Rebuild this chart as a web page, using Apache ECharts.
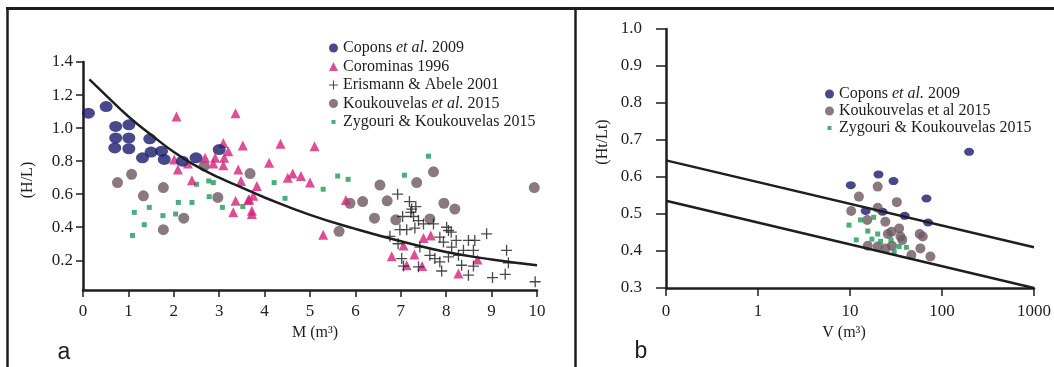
<!DOCTYPE html>
<html>
<head>
<meta charset="utf-8">
<script src="https://cdn.jsdelivr.net/npm/echarts@6/dist/echarts.min.js"></script>
<style>
    html, body { margin: 0; padding: 0; background: #fff; }
    #chart { width: 1054px; height: 367px; }
</style>
</head>
<body>
<div id="chart"></div>
<script>
/**
 * 数据 (a): M (m3) 与 H/L
 */
var coponsA = [[0.12, 1.09], [0.51, 1.13], [0.72, 1.01], [1.01, 1.02], [0.72, 0.94], [1.01, 0.94], [1.47, 0.935],
    [0.70, 0.88], [1.01, 0.875], [1.31, 0.82], [1.50, 0.855], [1.73, 0.86], [1.79, 0.81], [2.19, 0.80],
    [2.49, 0.82], [3.00, 0.87]];
var corominasA = [[2.06, 1.07], [3.36, 1.09], [3.09, 0.91], [3.52, 0.895], [3.20, 0.86], [2.69, 0.82], [2.91, 0.82],
    [3.11, 0.82], [2.01, 0.81], [2.31, 0.785], [2.09, 0.75], [2.87, 0.785], [3.09, 0.775], [3.42, 0.75],
    [2.40, 0.685], [3.48, 0.68], [3.36, 0.56], [3.31, 0.49], [3.64, 0.565], [4.35, 0.905], [5.10, 0.89],
    [4.10, 0.79], [4.62, 0.725], [4.51, 0.70], [4.80, 0.71], [5.00, 0.67], [3.83, 0.65], [3.75, 0.59],
    [3.66, 0.57], [3.72, 0.50], [3.72, 0.48], [5.29, 0.355], [5.79, 0.565], [7.06, 0.29], [7.50, 0.335],
    [7.66, 0.35], [6.80, 0.225], [7.30, 0.235], [7.13, 0.17], [7.47, 0.165], [8.69, 0.205], [8.27, 0.12]];
var erismannA = [[6.93, 0.60], [7.19, 0.555], [7.24, 0.51], [7.33, 0.525], [7.22, 0.49], [7.04, 0.465], [7.39, 0.44],
    [7.50, 0.42], [7.72, 0.42], [6.98, 0.385], [7.13, 0.385], [7.31, 0.395], [8.01, 0.40], [8.11, 0.37],
    [6.76, 0.345], [7.86, 0.34], [7.94, 0.31], [8.22, 0.32], [8.49, 0.32], [8.63, 0.32], [8.89, 0.36],
    [6.94, 0.30], [7.42, 0.28], [8.12, 0.28], [8.38, 0.26], [8.60, 0.26], [9.33, 0.26], [7.64, 0.23],
    [7.75, 0.21], [8.05, 0.22], [8.27, 0.23], [7.02, 0.21], [7.86, 0.19], [8.34, 0.17], [8.60, 0.165],
    [9.37, 0.185], [7.06, 0.165], [7.39, 0.16], [7.90, 0.135], [8.49, 0.11], [9.02, 0.095], [9.30, 0.115],
    [9.96, 0.07], [7.28, 0.465], [8.05, 0.38]];
var koukA = [[0.76, 0.67], [1.07, 0.72], [1.33, 0.59], [1.77, 0.64], [1.77, 0.385], [2.22, 0.455], [2.67, 0.77],
    [2.97, 0.58], [3.68, 0.725], [6.54, 0.655], [5.88, 0.545], [6.16, 0.555], [6.70, 0.56], [6.42, 0.455],
    [6.89, 0.445], [5.64, 0.375], [7.72, 0.735], [7.35, 0.67], [7.95, 0.545], [8.19, 0.51], [7.64, 0.45],
    [9.94, 0.64]];
var zygA = [[1.13, 0.49], [1.46, 0.52], [1.09, 0.35], [1.35, 0.415], [1.76, 0.47], [2.04, 0.48], [2.10, 0.55],
    [2.40, 0.55], [2.50, 0.66], [2.77, 0.68], [2.87, 0.67], [2.78, 0.585], [3.07, 0.52], [3.52, 0.525],
    [4.21, 0.67], [4.45, 0.575], [5.29, 0.63], [5.61, 0.71], [5.84, 0.69], [7.08, 0.715], [7.61, 0.83]];
var curveX = [0.14, 0.5, 1, 1.5, 2, 2.5, 3, 3.5, 4, 5, 6, 7, 8, 9, 10];
var curveY = [1.295, 1.2, 1.07, 0.96, 0.855, 0.77, 0.70, 0.64, 0.58, 0.475, 0.39, 0.315, 0.25, 0.205, 0.17];
var yTicksA = [0.2, 0.4, 0.6, 0.8, 1.0, 1.2, 1.4];

/**
 * 数据 (b): V (m3) 与 Ht/Lt
 */
var coponsB = [[20.4, 0.607], [10.2, 0.578], [29.7, 0.589], [67.8, 0.542], [14.8, 0.508], [22.6, 0.506],
    [39.3, 0.495], [70.6, 0.477], [197, 0.668]];
var koukB = [[20, 0.574], [12.5, 0.547], [32.3, 0.532], [20, 0.517], [10.3, 0.508], [15.4, 0.484], [24.2, 0.479],
    [34.2, 0.461], [28.3, 0.452], [25.8, 0.446], [35.4, 0.439], [57.2, 0.446], [61.8, 0.439], [37, 0.43],
    [15.6, 0.414], [20, 0.412], [24.4, 0.407], [28.6, 0.414], [58.2, 0.407], [46.5, 0.389], [74.8, 0.385]];
var zygB = [[9.75, 0.47], [13.0, 0.484], [18.1, 0.491], [15.6, 0.454], [20, 0.446], [11.7, 0.43], [17.3, 0.432],
    [27.9, 0.43], [34.2, 0.412], [41, 0.41], [30.2, 0.398], [21.5, 0.426]];
var upperB = [[0.1, 0.645], [1000, 0.41]];
var lowerB = [[0.1, 0.536], [1000, 0.3]];

var SERIF = '"Liberation Serif", "Times New Roman", serif';
var INK = '#1e1e1e';
var NAVY = '#1b1a6e';
var MAGENTA = '#d4237b';
var BROWN = '#6d5860';
var GREEN = '#1f9a54';
var PLUS = 'path://M4.4,0H5.6V4.4H10V5.6H5.6V10H4.4V5.6H0V4.4H4.4Z';
var SMALL_SQ = 'path://M0,0M9,9M2.5,2.5H6.5V6.5H2.5Z';

var chart = echarts.init(document.getElementById('chart'));

function axisBase(extra) {
    var base = {
        axisLine: {lineStyle: {color: INK, width: 2.5}},
        axisTick: {lineStyle: {color: INK, width: 1.5}, length: 7},
        axisLabel: {color: INK, fontFamily: SERIF, fontSize: 17},
        splitLine: {show: false}
    };
    for (var k in extra) {
        base[k] = extra[k];
    }
    return base;
}

var legendText = {
    color: INK,
    fontFamily: SERIF,
    fontSize: 16,
    lineHeight: 16,
    rich: {
        i: {fontFamily: SERIF, fontSize: 16, fontStyle: 'italic', color: INK}
    }
};

var option = {
    animation: false,
    backgroundColor: '#fff',
    grid: [
        {left: 83, right: 517, top: 62, bottom: 77},
        {left: 666, right: 16, top: 29, bottom: 79}
    ],
    xAxis: [
        axisBase({
            gridIndex: 0, type: 'value', min: 0, max: 10, interval: 1,
            name: 'M (m³)', nameLocation: 'middle', nameGap: 33,
            nameTextStyle: {color: INK, fontFamily: SERIF, fontSize: 16, padding: [0, 0, 0, 10]},
            axisLabel: {color: INK, fontFamily: SERIF, fontSize: 17, margin: 13}
        }),
        axisBase({
            gridIndex: 1, type: 'log', logBase: 10, min: 0.1, max: 1000,
            name: 'V (m³)', nameLocation: 'middle', nameGap: 30,
            nameTextStyle: {color: INK, fontFamily: SERIF, fontSize: 16, padding: [0, 12, 0, 0]},
            axisLabel: {
                color: INK, fontFamily: SERIF, fontSize: 17, margin: 15,
                formatter: function (v) { return v < 1 ? '0' : String(Math.round(v)); }
            },
            axisTick: {lineStyle: {color: INK, width: 1.5}, length: 8}
        })
    ],
    yAxis: [
        axisBase({
            gridIndex: 0, type: 'value', min: 0.02, max: 1.4,
            axisTick: {lineStyle: {color: INK, width: 1.5}, length: 7, customValues: yTicksA},
            axisLabel: {
                color: INK, fontFamily: SERIF, fontSize: 17, margin: 10, customValues: yTicksA,
                formatter: function (v) { return v.toFixed(1); }
            }
        }),
        axisBase({
            gridIndex: 1, type: 'value', min: 0.3, max: 1.0, interval: 0.1,
            axisTick: {lineStyle: {color: INK, width: 1.5}, length: 10},
            axisLabel: {
                color: INK, fontFamily: SERIF, fontSize: 17, margin: 24,
                formatter: function (v) { return v.toFixed(1); }
            }
        })
    ],
    legend: [
        {
            orient: 'vertical', left: 324, top: 35, itemWidth: 9, itemHeight: 9, itemGap: 2.5,
            textStyle: legendText,
            formatter: function (name) { return name.replace('et al.', '{i|et al.}'); },
            data: [
                {name: 'Copons et al. 2009', icon: 'circle'},
                {name: 'Corominas 1996', icon: 'triangle'},
                {name: 'Erismann & Abele 2001', icon: PLUS},
                {name: 'Koukouvelas et al. 2015', icon: 'circle'},
                {name: 'Zygouri & Koukouvelas 2015', icon: SMALL_SQ}
            ]
        },
        {
            orient: 'vertical', left: 820, top: 81, itemWidth: 9, itemHeight: 9, itemGap: 1,
            textStyle: legendText,
            formatter: function (name) { return name.replace('et al.', '{i|et al.}'); },
            data: [
                {name: 'Copons et al. 2009', icon: 'circle'},
                {name: 'Koukouvelas et al 2015', icon: 'circle'},
                {name: 'Zygouri & Koukouvelas 2015', icon: SMALL_SQ}
            ]
        }
    ],
    series: [
        // (a)
        {name: 'Koukouvelas et al. 2015', type: 'scatter', xAxisIndex: 0, yAxisIndex: 0, data: koukA,
            symbol: 'circle', symbolSize: 11, itemStyle: {color: BROWN}},
        {name: 'Zygouri & Koukouvelas 2015', type: 'scatter', xAxisIndex: 0, yAxisIndex: 0, data: zygA,
            symbol: 'rect', symbolSize: 5, itemStyle: {color: GREEN}},
        {name: 'Corominas 1996', type: 'scatter', xAxisIndex: 0, yAxisIndex: 0, data: corominasA,
            symbol: 'triangle', symbolSize: 10, itemStyle: {color: MAGENTA}},
        {name: 'Erismann & Abele 2001', type: 'scatter', xAxisIndex: 0, yAxisIndex: 0, data: erismannA,
            symbol: PLUS, symbolSize: 11, itemStyle: {color: INK}},
        {name: 'Copons et al. 2009', type: 'scatter', xAxisIndex: 0, yAxisIndex: 0, data: coponsA,
            symbol: 'circle', symbolSize: [13, 11], itemStyle: {color: NAVY}},
        {name: 'curveA', type: 'line', xAxisIndex: 0, yAxisIndex: 0, smooth: true, showSymbol: false,
            data: curveX.map(function (x, i) { return [x, curveY[i]]; }),
            lineStyle: {color: INK, width: 2.5}, z: 5},
        // (b)
        {name: 'Copons et al. 2009', type: 'scatter', xAxisIndex: 1, yAxisIndex: 1, data: coponsB,
            symbol: 'circle', symbolSize: [10, 8], itemStyle: {color: NAVY}},
        {name: 'Koukouvelas et al 2015', type: 'scatter', xAxisIndex: 1, yAxisIndex: 1, data: koukB,
            symbol: 'circle', symbolSize: 10, itemStyle: {color: BROWN}},
        {name: 'Zygouri & Koukouvelas 2015', type: 'scatter', xAxisIndex: 1, yAxisIndex: 1, data: zygB,
            symbol: 'rect', symbolSize: 5, itemStyle: {color: GREEN}},
        {name: 'upperB', type: 'line', xAxisIndex: 1, yAxisIndex: 1, data: upperB, showSymbol: false,
            lineStyle: {color: INK, width: 2.5}, z: 5},
        {name: 'lowerB', type: 'line', xAxisIndex: 1, yAxisIndex: 1, data: lowerB, showSymbol: false,
            lineStyle: {color: INK, width: 2.5}, z: 5}
    ],
    graphic: [
        // 边框
        {type: 'line', shape: {x1: 6, y1: 8.5, x2: 1054, y2: 8.5}, style: {stroke: INK, lineWidth: 3}},
        {type: 'line', shape: {x1: 7.5, y1: 7, x2: 7.5, y2: 367}, style: {stroke: INK, lineWidth: 2.5}},
        {type: 'line', shape: {x1: 575.5, y1: 7, x2: 575.5, y2: 367}, style: {stroke: INK, lineWidth: 2.5}},
        // 纵轴名称
        {type: 'text', x: 28, y: 180, rotation: Math.PI / 2,
            style: {text: '(H/L)', font: '16px ' + SERIF, fill: INK, textAlign: 'center', textVerticalAlign: 'middle'}},
        {type: 'text', x: 603, y: 142, rotation: Math.PI / 2,
            style: {text: '(Ht/Lt)', font: '16px ' + SERIF, fill: INK, textAlign: 'center', textVerticalAlign: 'middle'}},
        // 分图标签
        {type: 'text', x: 64, y: 353,
            style: {text: 'a', font: '23px "Liberation Sans", Arial, sans-serif', fill: INK, textAlign: 'center', textVerticalAlign: 'middle'}},
        {type: 'text', x: 641, y: 352,
            style: {text: 'b', font: '23px "Liberation Sans", Arial, sans-serif', fill: INK, textAlign: 'center', textVerticalAlign: 'middle'}}
    ]
};
chart.setOption(option);
</script>
</body>
</html>
